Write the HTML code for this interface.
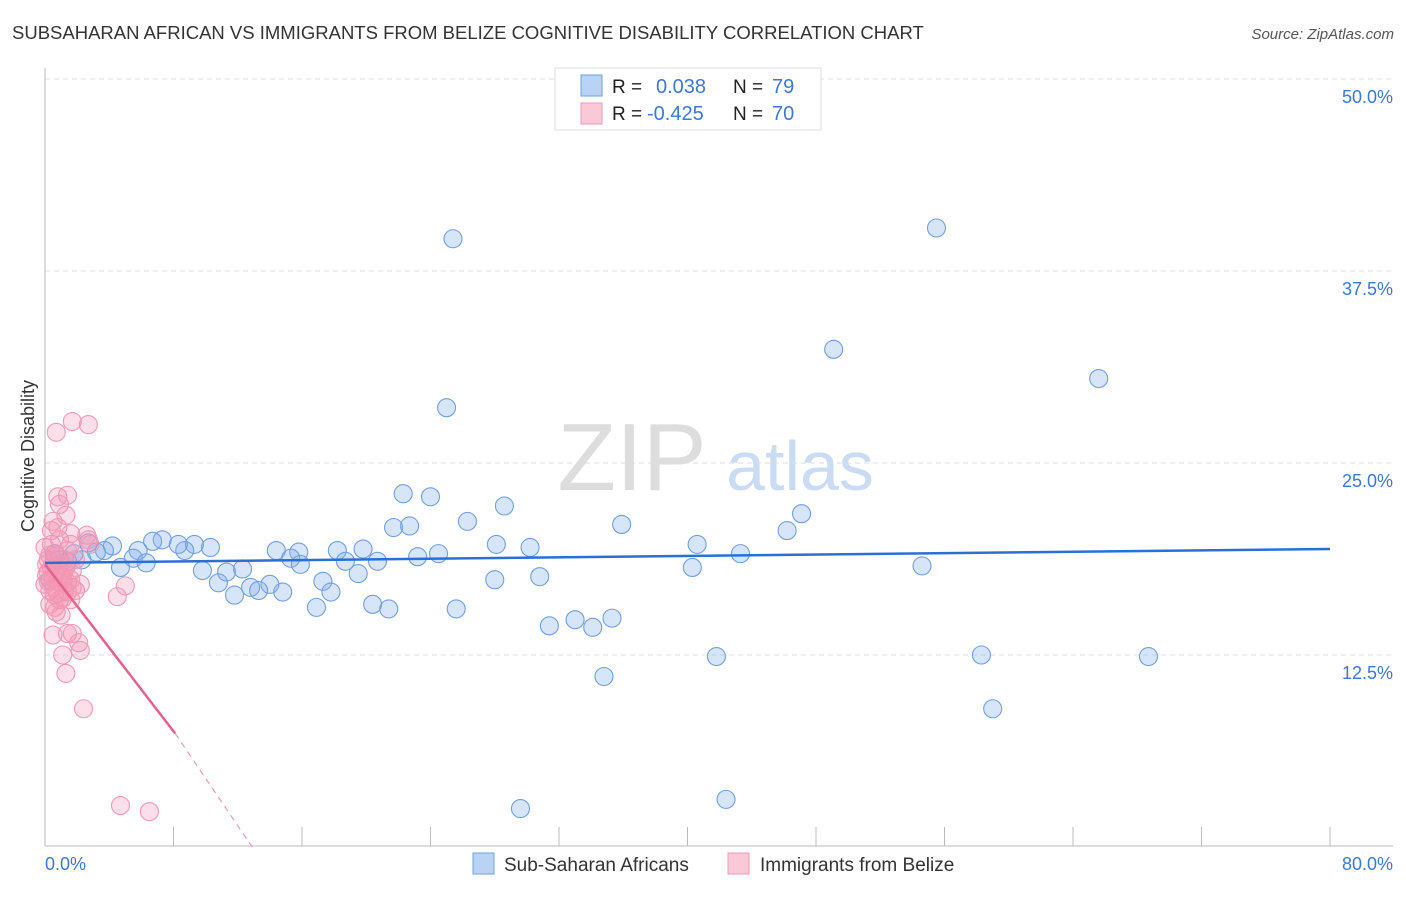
<!DOCTYPE html>
<html><head><meta charset="utf-8"><style>
body{margin:0;background:#fff;font-family:"Liberation Sans",sans-serif;}
svg text{font-family:"Liberation Sans",sans-serif;}
</style></head><body>
<svg id="chart" width="1406" height="892" xmlns="http://www.w3.org/2000/svg">
<text x="12" y="39" font-size="18.5" fill="#333">SUBSAHARAN AFRICAN VS IMMIGRANTS FROM BELIZE COGNITIVE DISABILITY CORRELATION CHART</text>
<text x="1394" y="39" font-size="15" fill="#555" text-anchor="end" font-style="italic">Source: ZipAtlas.com</text>
<g>
<text x="632" y="490" font-size="96" fill="#ddd" text-anchor="middle" font-family="Liberation Serif, serif">ZIP</text>
<text x="800" y="490" font-size="70" fill="#c9dcf3" text-anchor="middle">atlas</text>
</g>
<g id="grid"></g>
<g id="axes"></g>
<g id="pts"></g>
<g id="trend"></g>
<text transform="translate(34,456) rotate(-90)" font-size="18" fill="#333" text-anchor="middle">Cognitive Disability</text>
<g>
<rect x="555" y="68" width="266" height="62" fill="#fff" stroke="#ddd"/>
<rect x="581" y="75" width="21" height="21" fill="#b9d3f5" stroke="#6fa0e0"/>
<rect x="581" y="103" width="21" height="21" fill="#fbc8d8" stroke="#ef9ab5"/>
<text x="612" y="93" font-size="19" fill="#222">R =</text>
<text x="656" y="93" font-size="20" fill="#3b78d8">0.038</text>
<text x="733" y="93" font-size="19" fill="#222">N =</text>
<text x="772" y="93" font-size="20" fill="#3b78d8">79</text>
<text x="612" y="120" font-size="19" fill="#222">R =</text>
<text x="647" y="120" font-size="20" fill="#3b78d8">-0.425</text>
<text x="733" y="120" font-size="19" fill="#222">N =</text>
<text x="772" y="120" font-size="20" fill="#3b78d8">70</text>
</g>
<g>
<rect x="473" y="853" width="21" height="21" fill="#b9d3f5" stroke="#6fa0e0"/>
<text x="504" y="871" font-size="19" fill="#333">Sub-Saharan Africans</text>
<rect x="728" y="853" width="21" height="21" fill="#fbc8d8" stroke="#ef9ab5"/>
<text x="760" y="871" font-size="19" fill="#333">Immigrants from Belize</text>
</g>
</svg>
<script>
const yTicks=[12.5,25,37.5,50];
const yTickLabels=["12.5%","25.0%","37.5%","50.0%"];
const xEndLabels=["0.0%","80.0%"];
const blueX=[25.4,55.5,49.1,65.6,25.0,22.3,24.0,28.6,26.3,47.1,35.9,46.2,21.7,22.7,28.1,30.2,24.5,23.2,40.6,43.3,54.6,40.3,30.8,28.0,20.7,19.8,18.2,18.7,19.5,17.3,17.8,16.9,20.4,21.4,25.6,31.4,33.0,34.1,35.3,34.8,41.8,58.3,68.7,59.0,29.6,42.4,14.4,15.8,15.3,15.9,14.0,14.8,12.8,13.3,11.8,10.8,11.3,12.3,9.8,10.3,9.3,8.7,8.3,7.3,6.7,5.8,5.5,6.3,4.7,4.2,3.7,3.2,2.7,2.3,1.8,1.4,0.9,0.6,0.3];
const blueY=[39.6,40.3,32.4,30.5,28.6,23.0,22.8,22.2,21.2,21.7,21.0,20.6,20.8,20.9,19.7,19.5,19.1,18.9,19.7,19.1,18.3,18.2,17.6,17.4,18.6,19.4,19.3,18.6,17.8,17.3,16.6,15.6,15.8,15.5,15.5,14.4,14.8,14.3,14.9,11.1,12.4,12.5,12.4,9.0,2.5,3.1,19.3,19.2,18.8,18.4,17.1,16.6,16.9,16.7,16.4,17.2,17.9,18.1,18.0,19.5,19.7,19.3,19.7,20.0,19.9,19.3,18.8,18.5,18.2,19.6,19.3,19.2,19.8,18.7,19.1,18.6,18.7,19.1,17.4];
const pinkX=[0.7,1.7,2.7,0.8,1.4,0.9,0.5,0.8,1.6,2.6,0.4,0.9,2.7,1.4,2.8,0.3,0.6,0.9,1.2,0.2,0.5,0.8,1.1,1.6,0.0,0.3,0.6,0.9,1.2,1.7,1.9,2.2,0.3,0.6,1.1,1.4,0.1,0.4,0.7,1.1,1.4,1.7,0.2,0.7,1.2,1.3,0.1,0.2,0.6,0.8,5.0,4.5,0.5,1.4,1.7,2.1,2.2,1.1,1.3,2.4,4.7,6.5,1.6,1.9,1.0,0.7,1.6,0.0,0.4,1.3];
const pinkY=[27.0,27.7,27.5,22.8,22.9,22.3,21.2,20.8,20.4,20.3,19.7,20.0,20.0,19.3,19.7,19.0,18.7,18.4,18.0,17.9,17.5,17.3,17.7,17.4,17.1,16.7,16.4,16.1,16.7,16.9,16.7,17.1,15.8,15.6,16.2,16.6,18.4,18.2,17.9,17.5,17.2,18.0,18.7,19.0,18.7,18.2,17.7,17.3,16.9,16.5,17.0,16.3,13.8,13.9,13.9,13.3,12.8,12.5,11.3,9.0,2.7,2.3,19.7,18.7,15.1,15.3,16.1,19.5,20.6,21.6];
const blueTrend=[[0,18.5],[80,19.4]];
const pinkTrendSolid=[[0,18.4],[8.1,7.4]];
const pinkTrendDash=[[8.1,7.4],[12.9,0]];
const NS="http://www.w3.org/2000/svg";
const X0=45,X1=1330,Y0=847,Y1=79;
function sx(v){return X0+(v/80)*(X1-X0);}
function sy(v){return Y0-(v/50)*(Y0-Y1);}
function mk(t,a,p){const e=document.createElementNS(NS,t);for(const k in a)e.setAttribute(k,a[k]);p.appendChild(e);return e;}
const grid=document.getElementById('grid'),axes=document.getElementById('axes'),pts=document.getElementById('pts'),tr=document.getElementById('trend');
yTicks.forEach((v,i)=>{
 const l=mk('line',{x1:X0,x2:1393,y1:sy(v),y2:sy(v),stroke:'#ddd','stroke-dasharray':'5,4'},grid);
 
 
 const t=mk('text',{x:1393,y:sy(v)+24,'font-size':18,fill:'#3b78d8','text-anchor':'end'},axes);
 t.textContent=yTickLabels[i];
 
 
});
mk('line',{x1:X0,x2:X0,y1:68,y2:846,stroke:'#bbb'},axes);
mk('line',{x1:X0,x2:1393,y1:846,y2:846,stroke:'#bbb'},axes);
for(let k=1;k<=10;k++){const v=k*8;mk('line',{x1:sx(v),x2:sx(v),y1:827,y2:846,stroke:'#bbb'},axes);}
const xl0=mk('text',{x:45,y:870,'font-size':18,fill:'#3b78d8'},axes);xl0.textContent=xEndLabels[0];


const xl1=mk('text',{x:1393,y:870,'font-size':18,fill:'#3b78d8','text-anchor':'end'},axes);xl1.textContent=xEndLabels[1];


blueX.forEach((v,i)=>{const c=mk('circle',{cx:sx(v),cy:sy(blueY[i]),r:9,fill:'rgba(130,175,235,0.32)',stroke:'#6f9fe0','stroke-width':1.1},pts);
 
 });
pinkX.forEach((v,i)=>{const c=mk('circle',{cx:sx(v),cy:sy(pinkY[i]),r:9,fill:'rgba(245,150,180,0.3)',stroke:'#ef98b5','stroke-width':1.1},pts);
 
 });
const b=mk('line',{x1:sx(blueTrend[0][0]),y1:sy(blueTrend[0][1]),x2:sx(blueTrend[1][0]),y2:sy(blueTrend[1][1]),stroke:'#2a6fd6','stroke-width':2.5},tr);


const p=mk('line',{x1:sx(pinkTrendSolid[0][0]),y1:sy(pinkTrendSolid[0][1]),x2:sx(pinkTrendSolid[1][0]),y2:sy(pinkTrendSolid[1][1]),stroke:'#e5608c','stroke-width':2.5},tr);


const pd=mk('line',{x1:sx(pinkTrendDash[0][0]),y1:sy(pinkTrendDash[0][1]),x2:sx(pinkTrendDash[1][0]),y2:sy(pinkTrendDash[1][1]),stroke:'#e98aa8','stroke-width':1,'stroke-dasharray':'6,5'},tr);


</script>
</body></html>
